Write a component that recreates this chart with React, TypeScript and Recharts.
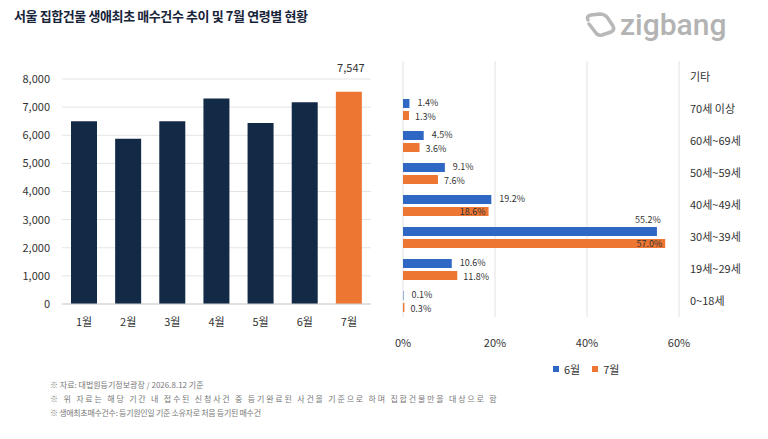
import { BarChart, Bar, Cell, XAxis, YAxis, CartesianGrid, LabelList } from 'recharts';

const months = ['1월', '2월', '3월', '4월', '5월', '6월', '7월'];
const buyCounts = [6500, 5880, 6500, 7310, 6440, 7170, 7547];
const countTicks = [0, 1000, 2000, 3000, 4000, 5000, 6000, 7000, 8000];

const ageGroups = ['기타', '70세 이상', '60세~69세', '50세~59세', '40세~49세', '30세~39세', '19세~29세', '0~18세'];
const juneShare = [null, 1.4, 4.5, 9.1, 19.2, 55.2, 10.6, 0.1];
const julyShare = [null, 1.3, 3.6, 7.6, 18.6, 57.0, 11.8, 0.3];
const shareTicks = [0, 20, 40, 60];

const NAVY = '#132a47';
const ORANGE = '#ed7632';
const BLUE = '#2f68c4';
const FONT = '"Noto Sans CJK KR", "Noto Sans", sans-serif';

const monthData = months.map((m, i) => ({ month: m, count: buyCounts[i] }));
const ageData = ageGroups.map((a, i) => ({ age: a, jun: juneShare[i], jul: julyShare[i] }));

function JuneLabel(p: any) {
  const { x, y, width, height, value } = p;
  if (value === null || value === undefined) return null;
  const end = x + width;
  if (value > 50) {
    return (
      <text x={end + 4} y={y - 4} textAnchor="end" fontSize={9} fill="#333" fontFamily={FONT}>
        {value.toFixed(1)}%
      </text>
    );
  }
  return (
    <text x={end + 8} y={y + height / 2 - 1} dominantBaseline="central" fontSize={9} fill="#333" fontFamily={FONT}>
      {value.toFixed(1)}%
    </text>
  );
}

function JulyLabel(p: any) {
  const { x, y, width, height, value } = p;
  if (value === null || value === undefined) return null;
  const end = x + width;
  if (value >= 15) {
    return (
      <text x={end - 3} y={y + height / 2} dominantBaseline="central" textAnchor="end" fontSize={9} fill="#333" fontFamily={FONT}>
        {value.toFixed(1)}%
      </text>
    );
  }
  return (
    <text x={end + 6} y={y + height / 2 + 1} dominantBaseline="central" fontSize={9} fill="#333" fontFamily={FONT}>
      {value.toFixed(1)}%
    </text>
  );
}

function TotalLabel(p: any) {
  const { x, y, width, value } = p;
  if (value !== 7547) return null;
  return (
    <text x={x + width / 2 + 2} y={y - 20} textAnchor="middle" fontSize={11} fill="#333" fontFamily={FONT}>
      {value.toLocaleString()}
    </text>
  );
}

function ZigbangLogo() {
  return (
    <svg width={170} height={42} style={{ position: 'absolute', left: 580, top: 5 }}>
      <path
        d="M8 15 Q6 11 11 10 L20 9 Q24 9 27 12 L33 21 Q35 25 31 27 L22 30 Q18 31 16 28 L9 19"
        fill="none"
        stroke="#b8b8b8"
        strokeWidth={3.5}
        strokeLinecap="round"
        strokeLinejoin="round"
      />
      <text x={40} y={30} fontSize={30} fontWeight={500} fill="#b3b3b3" fontFamily="Roboto, sans-serif">
        zigbang
      </text>
    </svg>
  );
}

export default function App() {
  return (
    <div
      style={{
        position: 'absolute',
        left: 0,
        top: 0,
        width: 768,
        height: 439,
        background: '#fff',
        fontFamily: FONT,
        overflow: 'hidden',
      }}
    >
      <div style={{ position: 'absolute', left: 14, top: 6, fontSize: 13, fontWeight: 700, color: '#17243a', letterSpacing: -0.4 }}>
        서울 집합건물 생애최초 매수건수 추이 및 7월 연령별 현황
      </div>
      <ZigbangLogo />

      {/* 월별 매수건수 */}
      <div style={{ position: 'absolute', left: 0, top: 60 }}>
        <BarChart width={385} height={280} data={monthData} margin={{ top: 19, right: 14, left: 0, bottom: 6 }}>
          <CartesianGrid vertical={false} stroke="#e4e4e4" />
          <XAxis
            dataKey="month"
            axisLine={{ stroke: '#d0d0d0' }}
            tickLine={false}
            tickMargin={8}
            height={30}
            tick={{ fontSize: 11, fill: '#333', fontFamily: FONT }}
          />
          <YAxis
            width={62}
            domain={[0, 8000]}
            ticks={countTicks}
            axisLine={false}
            tickLine={false}
            tickMargin={6}
            tickFormatter={(v) => v.toLocaleString()}
            tick={{ fontSize: 11, fill: '#333', fontFamily: FONT }}
          />
          <Bar dataKey="count" barSize={26} isAnimationActive={false}>
            {monthData.map((d, i) => (
              <Cell key={d.month} fill={i === monthData.length - 1 ? ORANGE : NAVY} />
            ))}
            <LabelList dataKey="count" content={TotalLabel} />
          </Bar>
        </BarChart>
      </div>

      {/* 연령별 비중 */}
      <div style={{ position: 'absolute', left: 383, top: 40 }}>
        <BarChart
          width={385}
          height={310}
          data={ageData}
          layout="vertical"
          barSize={9}
          barGap={3}
          margin={{ top: 21, right: 9, left: 20, bottom: 3 }}
        >
          <CartesianGrid horizontal={false} stroke="#e2e2e2" />
          <XAxis
            type="number"
            domain={[0, 60]}
            ticks={shareTicks}
            axisLine={false}
            tickLine={false}
            tickMargin={16}
            height={30}
            tickFormatter={(v) => `${v}%`}
            tick={{ fontSize: 11, fill: '#333', fontFamily: FONT }}
          />
          <YAxis
            type="category"
            dataKey="age"
            orientation="right"
            width={80}
            axisLine={false}
            tickLine={false}
            tickMargin={5}
            tick={{ fontSize: 11, fill: '#333', fontFamily: FONT, textAnchor: 'start' }}
          />
          <Bar dataKey="jun" fill={BLUE} isAnimationActive={false}>
            <LabelList dataKey="jun" content={JuneLabel} />
          </Bar>
          <Bar dataKey="jul" fill={ORANGE} isAnimationActive={false}>
            <LabelList dataKey="jul" content={JulyLabel} />
          </Bar>
        </BarChart>
      </div>

      <div style={{ position: 'absolute', left: 553, top: 361, display: 'flex', alignItems: 'center', gap: 12, fontSize: 11, color: '#333' }}>
        <span style={{ display: 'flex', alignItems: 'center', gap: 5 }}>
          <span style={{ width: 6, height: 6, background: BLUE, display: 'inline-block' }} />
          6월
        </span>
        <span style={{ display: 'flex', alignItems: 'center', gap: 5 }}>
          <span style={{ width: 6, height: 6, background: ORANGE, display: 'inline-block' }} />
          7월
        </span>
      </div>

      <div style={{ position: 'absolute', left: 50, top: 378, fontSize: 8, lineHeight: '14px', color: '#777', whiteSpace: 'nowrap' }}>
        <div>※ 자료: 대법원등기정보광장 / 2026.8.12 기준</div>
        <div style={{ letterSpacing: 1.8 }}>※ 위 자료는 해당 기간 내 접수된 신청사건 중 등기완료된 사건을 기준으로 하며 집합건물만을 대상으로 함</div>
        <div style={{ letterSpacing: -0.3 }}>※ 생애최초매수건수: 등기원인일 기준 소유자로 처음 등기된 매수건</div>
      </div>
    </div>
  );
}
